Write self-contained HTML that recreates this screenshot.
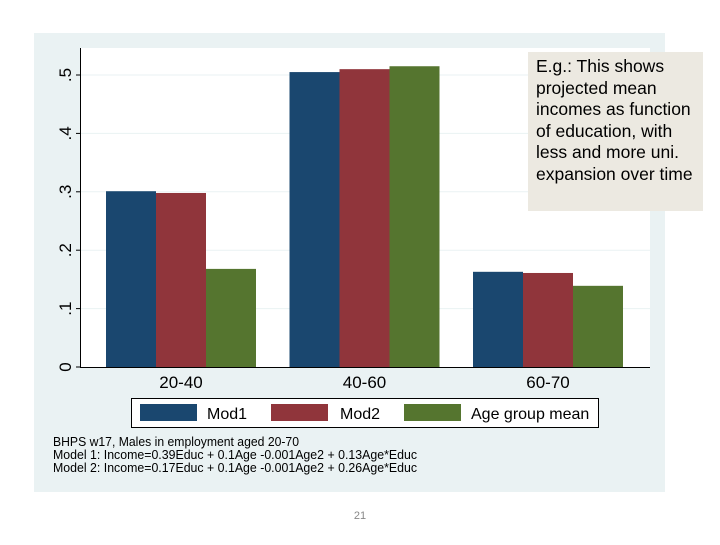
<!DOCTYPE html>
<html><head><meta charset="utf-8"><style>
body{margin:0;width:720px;height:540px;background:#fff;overflow:hidden;font-family:"Liberation Sans",sans-serif}
</style></head><body>
<svg width="720" height="540">
<rect x="34" y="33" width="631" height="459" fill="#eaf2f3"/>
<rect x="81" y="48" width="569" height="319" fill="#fff"/>
<g id="grid"></g>
<g id="bars"></g>
<line x1="80.5" y1="48" x2="80.5" y2="368" stroke="#000"/>
<line x1="80" y1="367.5" x2="650" y2="367.5" stroke="#000"/>
<g id="yticks" font-size="17" fill="#000"></g>
<g id="xlabels" font-size="17" fill="#000" text-anchor="middle"></g>
<g>
<rect x="131.5" y="398.5" width="467" height="29" fill="#fff" stroke="#000"/>
<rect x="140" y="404" width="57" height="17" fill="#1a476f"/>
<text x="207" y="419" font-size="16">Mod1</text>
<rect x="271" y="404" width="57" height="17" fill="#90353b"/>
<text x="340" y="419" font-size="16">Mod2</text>
<rect x="404" y="404" width="57" height="17" fill="#55752f"/>
<text x="471" y="419" font-size="16">Age group mean</text>
</g>
<g font-size="12.5" fill="#000">
<text x="53" y="446" textLength="246" lengthAdjust="spacingAndGlyphs">BHPS w17, Males in employment aged 20-70</text>
<text x="53" y="459" textLength="364" lengthAdjust="spacingAndGlyphs">Model 1: Income=0.39Educ + 0.1Age -0.001Age2 + 0.13Age*Educ</text>
<text x="53" y="472" textLength="364" lengthAdjust="spacingAndGlyphs">Model 2: Income=0.17Educ + 0.1Age -0.001Age2 + 0.26Age*Educ</text>
</g>
<text x="360" y="519" font-size="11" fill="#888" text-anchor="middle">21</text>
<g>
<rect x="528" y="52" width="175" height="159" fill="#ece9e1"/>
<g font-size="17.5" fill="#000">
<text x="536" y="72">E.g.: This shows</text>
<text x="536" y="94">projected mean</text>
<text x="536" y="115">incomes as function</text>
<text x="536" y="137">of education, with</text>
<text x="536" y="158">less and more uni.</text>
<text x="536" y="180">expansion over time</text>
</g></g>
</svg>
<script>
const categories=["20-40","40-60","60-70"];
const mod1=[0.301,0.505,0.163];
const mod2=[0.298,0.510,0.161];
const ageMean=[0.168,0.515,0.139];
const yTicks=[0,0.1,0.2,0.3,0.4,0.5];
const yTickLabels=["0",".1",".2",".3",".4",".5"];
const NS="http://www.w3.org/2000/svg";
const y=v=>367-v*584;
const groupStart=i=>106+i*183.5;
const series=[mod1,mod2,ageMean],colors=["#1a476f","#90353b","#55752f"],snames=["mod1","mod2","age-mean"];
function mk(t,a,p){const e=document.createElementNS(NS,t);for(const k in a)e.setAttribute(k,a[k]);p.appendChild(e);return e;}
const grid=document.getElementById('grid'),yt=document.getElementById('yticks'),bars=document.getElementById('bars'),xl=document.getElementById('xlabels');
yTicks.forEach((t,i)=>{
 if(t>0){const g=mk('line',{x1:81,x2:650,y1:y(t),y2:y(t),stroke:'#eaf2f3'},grid);
 
 }
 const tk=mk('line',{x1:76,x2:80,y1:y(t),y2:y(t),stroke:'#000'},yt);
 
 
 const tx=mk('text',{transform:`translate(71,${y(t)}) rotate(-90)`,'text-anchor':'middle'},yt);
 tx.textContent=yTickLabels[i];
 
 
});
categories.forEach((c,i)=>{
 series.forEach((s,j)=>{
  const r=mk('rect',{x:groupStart(i)+j*50,y:y(s[i]),width:50,height:367-y(s[i]),fill:colors[j]},bars);
  
  
 });
 const t=mk('text',{x:groupStart(i)+75,y:388},xl);
 t.textContent=c;
 
 
});
</script>
</body></html>
